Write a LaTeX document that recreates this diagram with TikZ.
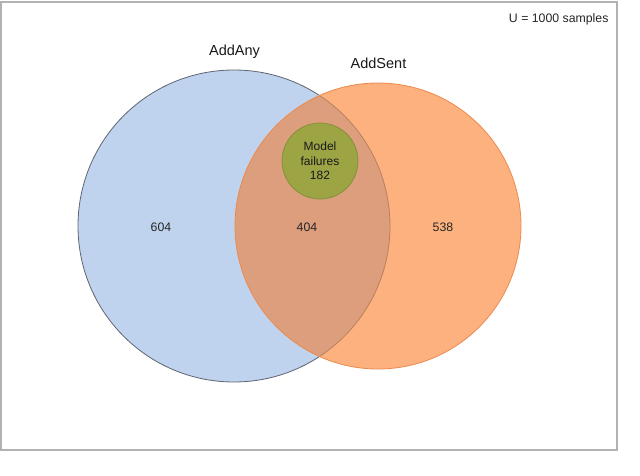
\documentclass[tikz,border=0pt]{standalone}
\usepackage{fontspec}
\setmainfont{Liberation Sans}
\definecolor{anyblue}{HTML}{C0D3EE}
\definecolor{anyedge}{HTML}{5E6470}
\definecolor{sentorange}{HTML}{FDB17E}
\definecolor{sentedge}{HTML}{EC8A4E}
\definecolor{overlapfill}{HTML}{DC9E7C}
\definecolor{overlapedge}{HTML}{B9805E}
\definecolor{failgreen}{HTML}{9CA444}
\definecolor{failedge}{HTML}{84903A}
\begin{document}
\begin{tikzpicture}[x=1pt,y=-1pt,
  setlabel/.style={font=\fontsize{14.5}{17}\selectfont, text=black!90},
  numlabel/.style={font=\fontsize{12.3}{14.5}\selectfont, text=black!85},
  failcircle/.style={circle, minimum size=76pt, inner sep=0pt, fill=failgreen, draw=failedge, line width=0.8pt, align=center, font=\fontsize{12}{14.5}\selectfont, text=black!90}]
\useasboundingbox (0,0) rectangle (640,476);
\fill[white] (0,0) rectangle (640,476);
\draw[gray!60, line width=1.2pt] (1,2) rectangle (617,450);
\coordinate (any) at (234,226);
\coordinate (sent) at (378,226);
\fill[anyblue] (any) circle (156pt);
\draw[anyedge, line width=0.8pt] (any) circle (156pt);
\fill[sentorange] (sent) circle (143pt);
\begin{scope}
  \clip (any) circle (156pt);
  \fill[overlapfill] (sent) circle (143pt);
\end{scope}
\begin{scope}
  \clip (sent) circle (143pt);
  \draw[overlapedge, line width=0.8pt] (any) circle (156pt);
\end{scope}
\draw[sentedge, line width=0.8pt] (sent) circle (143pt);
\node[failcircle] (fail) at (320,161) {Model\\failures\\182};
\node[setlabel] (anylbl) at (234.5,52) {AddAny};
\node[setlabel] (sentlbl) at (378.5,63) {AddSent};
\node[numlabel] (n604) at (161,227) {604};
\node[numlabel] (n404) at (307,227) {404};
\node[numlabel] (n538) at (443,227) {538};
\node[numlabel, anchor=east] (ulbl) at (612,19) {U = 1000 samples};
\end{tikzpicture}
\end{document}
